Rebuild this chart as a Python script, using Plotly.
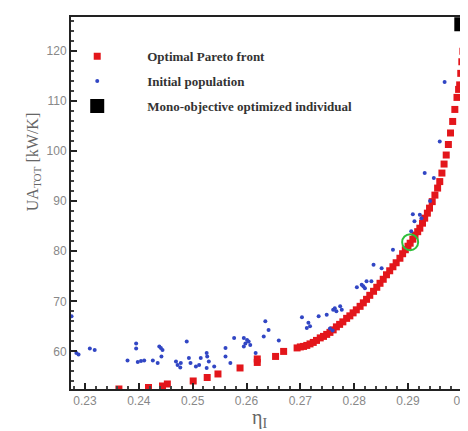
import plotly.graph_objects as go

# Optimal Pareto front (eta_I, UA_TOT)
pareto_eta = [0.2363, 0.2418, 0.2444, 0.2453, 0.2501, 0.2527, 0.2547, 0.2588, 0.2620, 0.2620,
              0.2654, 0.2669,
              0.2694, 0.2700, 0.2706, 0.2712, 0.2718, 0.2724, 0.2730, 0.2737, 0.2743, 0.2749,
              0.2755, 0.2761, 0.2767, 0.2773, 0.2779, 0.2786, 0.2792, 0.2798, 0.2804, 0.2811,
              0.2817, 0.2823, 0.2829, 0.2836, 0.2842, 0.2848, 0.2854, 0.2860, 0.2866, 0.2872,
              0.2878, 0.2885, 0.2890, 0.2895, 0.2900, 0.2904, 0.2909, 0.2913, 0.2918, 0.2922,
              0.2927, 0.2931, 0.2936, 0.2940, 0.2945, 0.2950, 0.2955, 0.2959, 0.2963, 0.2967,
              0.2971, 0.2975, 0.2979, 0.2983, 0.2987, 0.2991, 0.2994, 0.2996, 0.2998, 0.3000,
              0.3002, 0.3005, 0.3007, 0.3009, 0.3011]
pareto_ua = [52.5, 52.8, 53.1, 53.5, 54.1, 54.8, 55.5, 56.7, 57.8, 58.5,
             59.0, 60.0,
             60.7, 60.9, 61.0, 61.2, 61.5, 61.8, 62.2, 62.7, 63.0, 63.4,
             63.8, 64.3, 64.9, 65.4, 65.9, 66.6, 67.1, 67.7, 68.3, 69.0,
             69.7, 70.4, 71.2, 72.0, 72.8, 73.6, 74.4, 75.3, 76.1, 76.9,
             77.7, 78.6, 79.5, 80.3, 81.0, 81.6, 82.4, 83.2, 83.9, 84.6,
             85.6, 86.6, 87.6, 88.6, 89.9, 91.2, 92.6, 93.9, 95.6, 97.4,
             99.2, 101.3, 103.6, 105.9, 108.3, 110.7, 112.3, 113.2, 115.5, 117.8,
             119.9, 121.9, 123.5, 125.0, 126.5]

# Initial population
init_eta = [0.2284, 0.2288, 0.2309, 0.2318, 0.2275, 0.2379, 0.2395, 0.2395, 0.2398, 0.2404,
            0.2410, 0.2426, 0.2435, 0.2438, 0.2441, 0.2444, 0.2442, 0.2469, 0.2472, 0.2477,
            0.2478, 0.2489, 0.2493, 0.2496, 0.2506, 0.2512, 0.2515, 0.2526, 0.2527, 0.2530,
            0.2526, 0.2540, 0.2561, 0.2561, 0.2570, 0.2577, 0.2595, 0.2598, 0.2601, 0.2604,
            0.2607, 0.2595, 0.2617, 0.2635, 0.2641, 0.2632, 0.2660, 0.2703, 0.2715, 0.2712,
            0.2718, 0.2734, 0.2749, 0.2761, 0.2764, 0.2767, 0.2774, 0.2777, 0.2805, 0.2814,
            0.2817, 0.2820, 0.2823, 0.2832, 0.2836, 0.2851, 0.2872, 0.2906, 0.2909, 0.2912,
            0.2922, 0.2925, 0.2931, 0.2948, 0.2941, 0.2959, 0.2968, 0.2755, 0.2760]
init_ua = [59.7, 59.4, 60.6, 60.3, 67.0, 58.2, 61.6, 60.6, 57.9, 58.1,
           58.2, 58.2, 57.7, 61.0, 60.7, 60.3, 59.0, 58.0, 57.3, 56.8,
           57.7, 62.0, 58.7, 57.7, 57.0, 57.3, 58.7, 59.7, 59.0, 58.0,
           56.7, 57.0, 60.7, 59.0, 57.7, 62.7, 62.7, 61.6, 62.3, 62.0,
           61.3, 61.0, 59.7, 66.0, 64.3, 63.0, 62.2, 66.8, 65.7, 64.7,
           65.0, 67.0, 67.3, 68.3, 68.6, 68.0, 69.0, 68.3, 72.8, 73.3,
           73.0, 72.6, 74.0, 74.0, 77.3, 76.6, 80.3, 84.0, 87.4, 86.0,
           87.3, 86.6, 95.6, 94.6, 90.0, 101.9, 113.8, 64.6, 64.2]

# Mono-objective optimized individual
mono_eta = [0.2999]
mono_ua = [125.3]

# Highlighted solution
sel_eta = [0.2904]
sel_ua = [81.8]

fig = go.Figure()
fig.add_trace(go.Scatter(x=pareto_eta, y=pareto_ua, mode="markers", name="<b>Optimal Pareto front</b>",
                         legendgroup="a",
                         marker=dict(symbol="square", size=7, color="#e3161b", line=dict(width=0))))
fig.add_trace(go.Scatter(x=init_eta, y=init_ua, mode="markers", name="<b>Initial population</b>",
                         legendgroup="b",
                         marker=dict(symbol="circle", size=4, color="#3146c4", line=dict(width=0))))
fig.add_trace(go.Scatter(x=mono_eta, y=mono_ua, mode="markers", name="<b>Mono-objective optimized individual</b>",
                         legendgroup="c",
                         marker=dict(symbol="square", size=14, color="#000000", line=dict(width=0))))
fig.add_trace(go.Scatter(x=sel_eta, y=sel_ua, mode="markers", showlegend=False,
                         marker=dict(symbol="circle-open", size=16, color="#2fbf3a", line=dict(width=2))))

axis_common = dict(showline=True, linecolor="#222", linewidth=2, mirror=True,
                   ticks="inside", ticklen=6, tickwidth=2, tickcolor="#222",
                   showgrid=False, zeroline=False,
                   tickfont=dict(family="Liberation Sans, Arial", size=12, color="#888"))

fig.update_xaxes(range=[0.2274, 0.30226], dtick=0.01, tick0=0.23,
                 minor=dict(ticks="inside", ticklen=3, dtick=0.002, tickcolor="#444", showgrid=False),
                 **axis_common)
fig.update_yaxes(range=[52.5, 126.75], dtick=10, tick0=60,
                 minor=dict(ticks="inside", ticklen=3, dtick=2, tickcolor="#444", showgrid=False),
                 **axis_common)

fig.update_layout(
    width=468, height=431,
    margin=dict(l=63, r=0, t=9, b=50),
    plot_bgcolor="white", paper_bgcolor="white",
    showlegend=True,
    legend=dict(x=-0.059, y=0.935, xanchor="left", yanchor="top",
                bgcolor="rgba(0,0,0,0)", itemwidth=90, itemsizing="trace",
                traceorder="grouped", tracegroupgap=5,
                font=dict(family="Liberation Serif, Times New Roman", size=13, color="#333")),
    annotations=[
        dict(text="UA<sub>TOT</sub> [kW/K]", xref="paper", yref="paper", x=-0.094, y=0.61,
             xanchor="center", yanchor="middle", textangle=-90, showarrow=False,
             font=dict(family="Liberation Serif, Times New Roman", size=16, color="#666")),
        dict(text="η<sub>I</sub>", xref="paper", yref="paper", x=0.467, y=-0.079,
             xanchor="center", yanchor="middle", showarrow=False,
             font=dict(family="Liberation Serif, Times New Roman", size=20, color="#666")),
    ],
)

fig.write_html("out.html")
